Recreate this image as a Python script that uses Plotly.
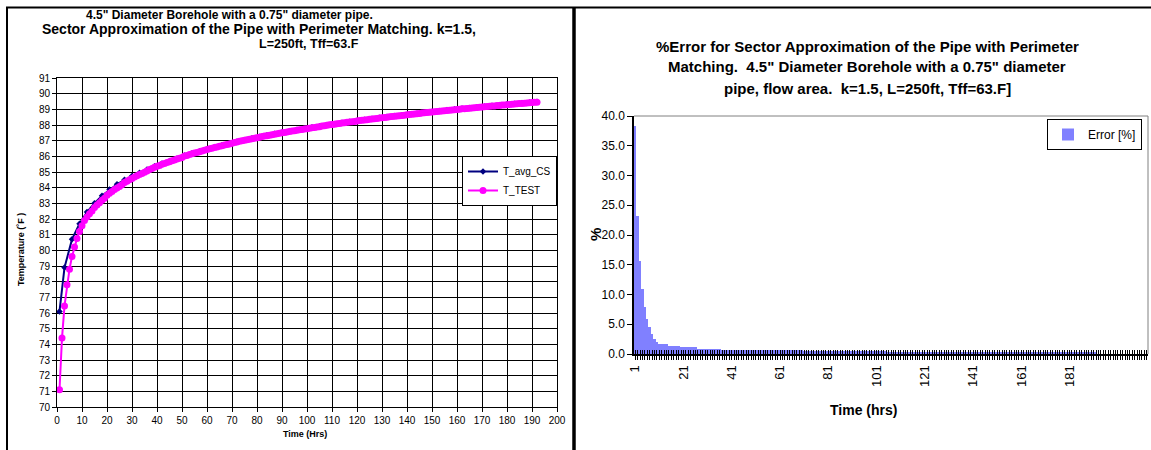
import plotly.graph_objects as go

# ---------------- data ----------------
t_cs = [1, 3, 6, 9, 12, 15, 18, 21, 24, 27, 30, 33, 36, 39, 42, 45, 48, 51, 54, 57, 60,
        63, 66, 69, 72, 75, 78, 81, 84, 87, 90, 93, 96, 99, 102, 105, 108, 111, 114, 117,
        120, 123, 126, 129, 132, 135, 138, 141, 144, 147, 150, 153, 156, 159, 162, 165,
        168, 171, 174, 177, 180, 183, 186, 189, 192]
T_avg_CS = [76.1, 78.9, 80.7, 81.7, 82.44, 83.01, 83.48, 83.88, 84.22, 84.50, 84.74, 84.96,
            85.16, 85.36, 85.54, 85.71, 85.86, 86.06, 86.19, 86.33, 86.46, 86.59, 86.71,
            86.82, 86.95, 87.05, 87.16, 87.25, 87.35, 87.44, 87.53, 87.61, 87.69, 87.77,
            87.85, 87.92, 88.00, 88.07, 88.14, 88.21, 88.27, 88.34, 88.40, 88.46, 88.52,
            88.58, 88.63, 88.69, 88.74, 88.80, 88.85, 88.90, 88.95, 89.00, 89.05, 89.09,
            89.14, 89.18, 89.23, 89.27, 89.32, 89.36, 89.40, 89.44, 89.48]

t_test = list(range(1, 193))
T_TEST = [71.1, 74.4, 76.45, 77.8, 78.8, 79.6, 80.22, 80.76, 81.21, 81.57,
          81.90, 82.13, 82.33, 82.51, 82.73, 82.90, 83.04, 83.19, 83.33, 83.52,
          83.65, 83.76, 83.88, 83.98, 84.08, 84.18, 84.33, 84.41, 84.50, 84.59,
          84.68, 84.76, 84.84, 84.91, 84.99, 85.06, 85.16, 85.23, 85.30, 85.36,
          85.42, 85.49, 85.55, 85.60, 85.66, 85.72, 85.77, 85.83, 85.88, 85.93,
          86.02, 86.06, 86.11, 86.16, 86.21, 86.25, 86.30, 86.34, 86.39, 86.43,
          86.48, 86.52, 86.56, 86.60, 86.64, 86.68, 86.72, 86.76, 86.79, 86.83,
          86.89, 86.92, 86.96, 86.99, 87.02, 87.06, 87.09, 87.13, 87.16, 87.19,
          87.22, 87.26, 87.29, 87.32, 87.35, 87.38, 87.41, 87.44, 87.47, 87.50,
          87.52, 87.55, 87.58, 87.61, 87.63, 87.66, 87.69, 87.71, 87.74, 87.76,
          87.79, 87.82, 87.84, 87.87, 87.89, 87.93, 87.96, 87.98, 88.01, 88.03,
          88.05, 88.08, 88.10, 88.12, 88.14, 88.17, 88.19, 88.21, 88.23, 88.25,
          88.28, 88.30, 88.32, 88.34, 88.36, 88.38, 88.40, 88.42, 88.44, 88.46,
          88.48, 88.50, 88.52, 88.54, 88.56, 88.58, 88.59, 88.61, 88.63, 88.65,
          88.67, 88.69, 88.70, 88.72, 88.74, 88.76, 88.78, 88.79, 88.81, 88.83,
          88.84, 88.86, 88.88, 88.89, 88.91, 88.93, 88.94, 88.96, 88.98, 88.99,
          89.01, 89.03, 89.04, 89.06, 89.07, 89.09, 89.10, 89.12, 89.13, 89.15,
          89.16, 89.18, 89.19, 89.21, 89.22, 89.24, 89.25, 89.27, 89.28, 89.30,
          89.31, 89.32, 89.34, 89.35, 89.37, 89.38, 89.39, 89.41, 89.42, 89.43,
          89.45, 89.46]

err_categories = list(range(1, 214))
error_pct = [38.3, 23.2, 15.6, 11.0, 7.9, 5.9, 4.6, 3.4, 2.6, 2.1,
             1.6, 1.6, 1.6, 1.6, 1.4, 1.4, 1.4, 1.4, 1.4, 1.1,
             1.1, 1.1, 1.1, 1.1, 1.1, 1.1, 0.9, 0.9, 0.9, 0.9,
             0.9, 0.9, 0.9, 0.9, 0.9, 0.9, 0.75, 0.75, 0.75, 0.75,
             0.75, 0.75, 0.75, 0.75, 0.75, 0.75, 0.75, 0.75, 0.75, 0.75,
             0.6, 0.6, 0.6, 0.6, 0.6, 0.6, 0.6, 0.6, 0.6, 0.6,
             0.6, 0.6, 0.6, 0.6, 0.6, 0.6, 0.6, 0.6, 0.6, 0.6,
             0.5, 0.5, 0.5, 0.5, 0.5, 0.5, 0.5, 0.5, 0.5, 0.5,
             0.5, 0.5, 0.5, 0.5, 0.5, 0.5, 0.5, 0.5, 0.5, 0.5,
             0.5, 0.5, 0.5, 0.5, 0.5, 0.5, 0.5, 0.5, 0.5, 0.5,
             0.5, 0.5, 0.5, 0.5, 0.5, 0.3, 0.3, 0.3, 0.3, 0.3,
             0.3, 0.3, 0.3, 0.3, 0.3, 0.3, 0.3, 0.3, 0.3, 0.3,
             0.3, 0.3, 0.3, 0.3, 0.3, 0.3, 0.3, 0.3, 0.3, 0.3,
             0.3, 0.3, 0.3, 0.3, 0.3, 0.3, 0.3, 0.3, 0.3, 0.3,
             0.2, 0.2, 0.2, 0.2, 0.2, 0.2, 0.2, 0.2, 0.2, 0.2,
             0.2, 0.2, 0.2, 0.2, 0.2, 0.2, 0.2, 0.2, 0.2, 0.2,
             0.2, 0.2, 0.2, 0.2, 0.2, 0.2, 0.2, 0.2, 0.2, 0.2,
             0.2, 0.2, 0.2, 0.2, 0.2, 0.2, 0.2, 0.2, 0.2, 0.2,
             0.2, 0.2, 0.2, 0.2, 0.2, 0.2, 0.2, 0.2, 0.2, 0.2,
             0.2, 0.2,
             None, None, None, None, None, None, None, None, None, None,
             None, None, None, None, None, None, None, None, None, None, None]
err_tick_labels = [str(c) if (c - 1) % 20 == 0 and c < 200 else "" for c in err_categories]

left_title = ['4.5" Diameter Borehole with a 0.75" diameter pipe.',
              'Sector Approximation of the Pipe with Perimeter Matching. k=1.5,',
              'L=250ft, Tff=63.F']
right_title = ['%Error for Sector Approximation of the Pipe with Perimeter',
               'Matching.  4.5" Diameter Borehole with a 0.75" diameter',
               'pipe, flow area.  k=1.5, L=250ft, Tff=63.F]']

# ---------------- layout helpers ----------------
W, H = 1151, 450
def px(x):
    return x / W
def py(y):
    return 1 - y / H

FONT = "Liberation Sans, Arial, sans-serif"

fig = go.Figure()

fig.add_trace(go.Scatter(
    x=t_cs, y=T_avg_CS, mode="lines+markers", name="T_avg_CS",
    line=dict(color="#000080", width=2),
    marker=dict(symbol="diamond", size=5, color="#000080"),
    xaxis="x", yaxis="y", legend="legend"))
fig.add_trace(go.Scatter(
    x=t_test, y=T_TEST, mode="lines+markers", name="T_TEST",
    line=dict(color="#FF00FF", width=2),
    marker=dict(symbol="circle", size=7, color="#FF00FF"),
    xaxis="x", yaxis="y", legend="legend"))

fig.add_trace(go.Bar(
    x=err_categories, y=error_pct, name="Error [%]",
    marker=dict(color="#8080FF", line=dict(width=0)),
    width=1.0, xaxis="x2", yaxis="y2", legend="legend2"))
fig.add_trace(go.Scatter(x=[None], y=[None], xaxis="x3", yaxis="y2",
                         showlegend=False, hoverinfo="skip"))

axis_common = dict(showline=True, linecolor="black", linewidth=1, zeroline=False)

fig.update_layout(
    width=W, height=H, margin=dict(l=0, r=0, t=0, b=0, autoexpand=False),
    paper_bgcolor="white", plot_bgcolor="white",
    font=dict(family=FONT, color="black"),
    showlegend=True,
    xaxis=dict(domain=[px(57), px(557)], range=[0, 200], dtick=10, tick0=0,
               showgrid=True, gridcolor="black", gridwidth=1, mirror=True,
               ticks="outside", ticklen=4, tickcolor="black",
               tickfont=dict(size=10, family=FONT), anchor="y", automargin=False,
               **axis_common),
    yaxis=dict(domain=[py(407), py(78)], range=[70, 91], dtick=1, tick0=70,
               showgrid=True, gridcolor="black", gridwidth=1, mirror=True,
               ticks="outside", ticklen=4, tickcolor="black",
               tickfont=dict(size=10, family=FONT), anchor="x", automargin=False,
               **axis_common),
    xaxis2=dict(domain=[px(634), px(1148)], range=[0.5, 213.5],
                tickmode="array", tickvals=err_categories, ticktext=err_tick_labels,
                ticks="outside", ticklen=4, tickcolor="black", tickwidth=1,
                tickangle=-90, tickfont=dict(size=13, family=FONT),
                showgrid=False, anchor="y2", showline=True, linecolor="black",
                linewidth=2, zeroline=False, automargin=False),
    xaxis3=dict(domain=[px(634), px(1148)], range=[0.5, 213.5], overlaying="x2",
                tickmode="array", tickvals=err_categories,
                ticks="inside", ticklen=4, tickcolor="black", tickwidth=1,
                showticklabels=False, showgrid=False, showline=False,
                zeroline=False, anchor="y2", side="bottom", automargin=False),
    yaxis2=dict(domain=[py(354), py(116)], range=[0, 40], dtick=5, tick0=0,
                tickformat=".1f", ticks="outside", ticklen=5, tickcolor="black",
                tickfont=dict(size=12, family=FONT), showgrid=False,
                anchor="x2", showline=True, linecolor="black", linewidth=1.5,
                zeroline=False, automargin=False),
    legend=dict(x=px(462), y=py(156), xanchor="left", yanchor="top",
                bgcolor="white", bordercolor="black", borderwidth=1,
                font=dict(size=10, family=FONT), itemwidth=30,
                tracegroupgap=0),
    legend2=dict(x=px(1142), y=py(119), xanchor="right", yanchor="top",
                 bgcolor="white", bordercolor="black", borderwidth=1,
                 font=dict(size=12, family=FONT), itemwidth=30),
    bargap=0,
)

shapes = [
    # panel borders
    dict(type="line", xref="paper", yref="paper", x0=px(6), x1=1, y0=py(7.5), y1=py(7.5),
         line=dict(color="black", width=2)),
    dict(type="line", xref="paper", yref="paper", x0=px(7), x1=px(7), y0=0, y1=py(7),
         line=dict(color="black", width=2)),
    dict(type="line", xref="paper", yref="paper", x0=px(574), x1=px(574), y0=0, y1=py(7),
         line=dict(color="black", width=3.5)),
    # right plot frame (top/right)
    dict(type="line", xref="paper", yref="paper", x0=px(634), x1=px(1148), y0=py(116), y1=py(116),
         line=dict(color="#808080", width=1)),
    dict(type="line", xref="paper", yref="paper", x0=px(1148), x1=px(1148), y0=py(116), y1=py(354),
         line=dict(color="#808080", width=1)),
]

annotations = []
left_specs = [(84, 15, 12), (40, 29, 14), (257, 44, 12.5)]
for txt, (x0, y0, fs) in zip(left_title, left_specs):
    annotations.append(dict(text="<b>%s</b>" % txt, x=px(x0), y=py(y0), xref="paper", yref="paper",
                            xanchor="left", yanchor="middle", showarrow=False,
                            font=dict(size=fs, family=FONT)))
for i, txt in enumerate(right_title):
    annotations.append(dict(text="<b>%s</b>" % txt, x=px(867), y=py(46 + 21 * i), xref="paper",
                            yref="paper", xanchor="center", yanchor="middle", showarrow=False,
                            font=dict(size=15, family=FONT)))
annotations += [
    dict(text="<b>Time (Hrs)</b>", x=px(305), y=py(434), xref="paper", yref="paper",
         xanchor="center", yanchor="middle", showarrow=False, font=dict(size=9, family=FONT)),
    dict(text="<b>Temperature (˚F )</b>", x=px(21), y=py(250), xref="paper", yref="paper",
         xanchor="center", yanchor="middle", showarrow=False, textangle=-90,
         font=dict(size=9, family=FONT)),
    dict(text="<b>Time (hrs)</b>", x=px(863), y=py(410), xref="paper", yref="paper",
         xanchor="center", yanchor="middle", showarrow=False, font=dict(size=14, family=FONT)),
    dict(text="<b>%</b>", x=px(595), y=py(235), xref="paper", yref="paper",
         xanchor="center", yanchor="middle", showarrow=False, textangle=-90,
         font=dict(size=15, family=FONT)),
]

fig.update_layout(shapes=shapes, annotations=annotations)
fig.write_html("out.html")
